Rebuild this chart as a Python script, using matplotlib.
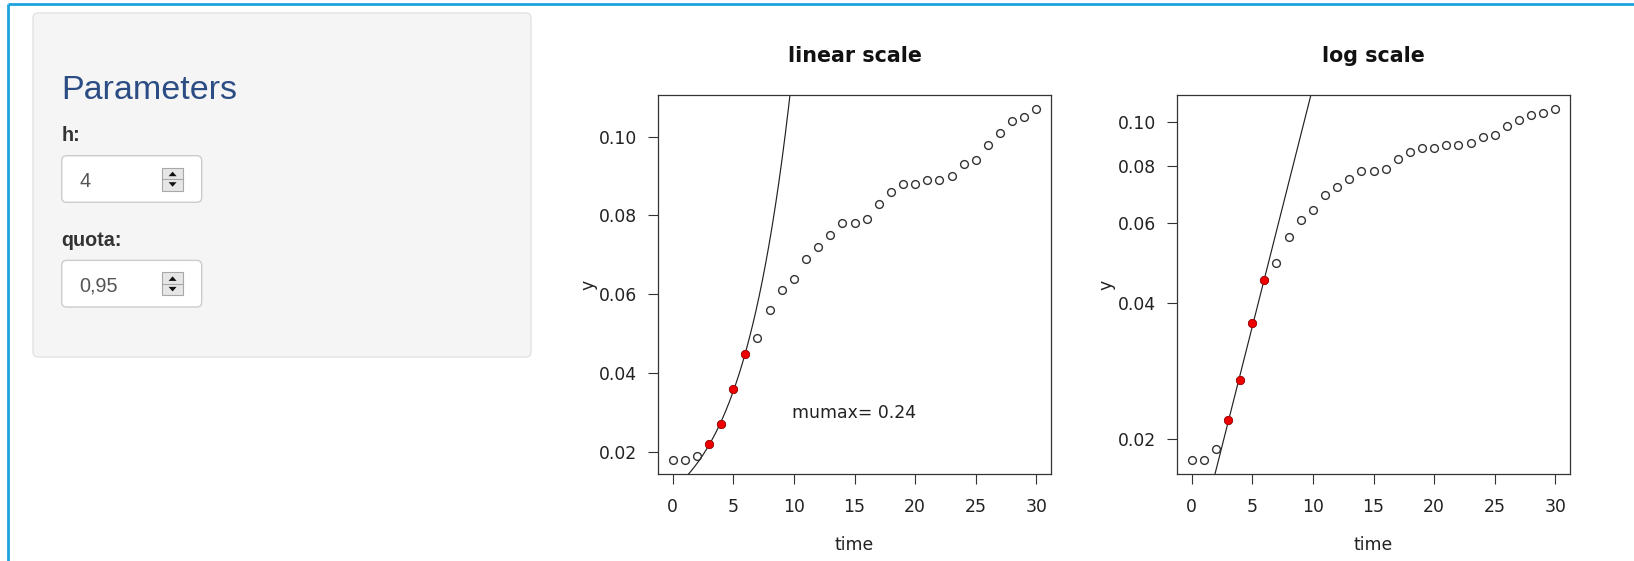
import numpy as np
import matplotlib
matplotlib.use("Agg")
import matplotlib.pyplot as plt
from matplotlib.patches import FancyBboxPatch, Rectangle, Polygon
from matplotlib.lines import Line2D

# ---------------- data ----------------
time = list(range(0, 31))
y = [0.018, 0.018, 0.019, 0.022, 0.027, 0.036, 0.045, 0.049, 0.056, 0.061,
     0.064, 0.069, 0.072, 0.075, 0.078, 0.078, 0.079, 0.083, 0.086, 0.088,
     0.088, 0.089, 0.089, 0.090, 0.093, 0.094, 0.098, 0.101, 0.104, 0.105,
     0.107]
fit_index = [3, 4, 5, 6]          # h = 4 points used for the fit
h_value = "4"
quota_value = "0,95"
x_ticks = [0, 5, 10, 15, 20, 25, 30]
lin_yticks = [0.02, 0.04, 0.06, 0.08, 0.10]
log_yticks = [0.02, 0.04, 0.06, 0.08, 0.10]

time_a = np.array(time, dtype=float)
y_a = np.array(y)
t_fit = time_a[fit_index]
y_fit = y_a[fit_index]
mumax, lny0 = np.polyfit(t_fit, np.log(y_fit), 1)
y0 = np.exp(lny0)

W, H = 1634, 561
fig = plt.figure(figsize=(W / 100, H / 100), dpi=100)
fig.patch.set_facecolor("white")

# ---------------- background (pixel coordinates) ----------------
bg = fig.add_axes([0, 0, 1, 1], zorder=-5)
bg.set_xlim(0, W)
bg.set_ylim(H, 0)
bg.axis("off")

blue = "#1ea3dd"
bg.add_line(Line2D([8, W], [4, 4], color=blue, lw=2.0, solid_capstyle="butt"))
bg.add_line(Line2D([8.5, 8.5], [4, H], color=blue, lw=2.0, solid_capstyle="butt"))

panel = FancyBboxPatch((33, 13), 498, 344, boxstyle="round,pad=0,rounding_size=5",
                       facecolor="#f5f5f5", edgecolor="#e3e3e3", lw=1.0)
bg.add_patch(panel)

sans = ["Liberation Sans", "DejaVu Sans"]
bg.text(61.5, 99, "Parameters", fontsize=24.5, color="#2c4c84", family=sans,
        va="baseline", ha="left")


def numeric_input(top, label, value):
    bg.text(61.5, top - 14.5, label, fontsize=14.2, fontweight="bold", color="#333333",
            family=sans, va="baseline", ha="left")
    box = FancyBboxPatch((61.7, top), 140, 46.6, boxstyle="round,pad=0,rounding_size=5",
                         facecolor="white", edgecolor="#cccccc", lw=1.0)
    bg.add_patch(box)
    bg.text(79.3, top + 31, value, fontsize=14.3, color="#555555", family=sans,
            va="baseline", ha="left")
    sx, sy, sw, sh = 162.5, top + 12, 20.2, 23
    bg.add_patch(Rectangle((sx, sy), sw, sh, facecolor="#e6e6e6", edgecolor="#a8a8a8", lw=0.8))
    bg.add_line(Line2D([sx, sx + sw], [sy + sh / 2, sy + sh / 2], color="#a8a8a8", lw=0.8))
    cx = sx + sw / 2
    bg.add_patch(Polygon([[cx - 4, sy + 8.5], [cx + 4, sy + 8.5], [cx, sy + 4]],
                         closed=True, facecolor="#111111", edgecolor="none"))
    bg.add_patch(Polygon([[cx - 4, sy + sh - 8.5], [cx + 4, sy + sh - 8.5], [cx, sy + sh - 4]],
                         closed=True, facecolor="#111111", edgecolor="none"))


numeric_input(155.7, "h:", h_value)
numeric_input(260.4, "quota:", quota_value)

# ---------------- plots ----------------
plt.rcParams["font.family"] = ["DejaVu Sans"]
fs = 12.4
dark = "#333333"


def make_axes(left_px):
    ax = fig.add_axes([left_px / W, 1 - 474 / H, 393 / W, 379 / H])
    for s in ax.spines.values():
        s.set_color(dark)
        s.set_linewidth(0.9)
    ax.tick_params(axis="both", which="major", length=7.2, width=0.8, color=dark,
                   labelsize=fs, labelcolor="#222222", direction="out")
    ax.tick_params(axis="y", pad=7.6)
    ax.tick_params(axis="x", pad=10)
    ax.tick_params(which="minor", left=False, bottom=False)
    ax.set_xlim(-1.2, 31.2)
    ax.set_xticks(x_ticks)
    ax.set_xticklabels([str(v) for v in x_ticks])
    return ax


tt = np.linspace(-1.2, 31.2, 600)
curve = y0 * np.exp(mumax * tt)


def draw_points(ax):
    ax.plot(tt, curve, color="#222222", lw=0.85, zorder=2)
    ax.plot(time_a, y_a, linestyle="none", marker="o", ms=5.6, mfc="none", mec=dark,
            mew=1.0, zorder=3)
    ax.plot(t_fit, y_fit, linestyle="none", marker="o", ms=5.8, mfc="#ee0000",
            mec="#c00000", mew=0.5, zorder=4)


# linear scale
ax1 = make_axes(658)
draw_points(ax1)
rng = y_a.max() - y_a.min()
ax1.set_ylim(y_a.min() - 0.04 * rng, y_a.max() + 0.04 * rng)
ax1.set_yticks(lin_yticks)
ax1.set_yticklabels(["%.2f" % v for v in lin_yticks])
ax1.text(15, 0.03, "mumax= %.2f" % mumax, fontsize=fs, color="#222222",
         ha="center", va="center")
ax1.text(0.5, 1.0863, "linear scale", transform=ax1.transAxes, ha="center",
         va="baseline", fontsize=14.9, fontweight="bold", color="#111111")
ax1.text(-0.178, 0.5, "y", transform=ax1.transAxes, rotation=90, ha="center",
         va="center", fontsize=fs, color="#222222")
ax1.text(0.5, -0.187, "time", transform=ax1.transAxes, ha="center", va="center",
         fontsize=fs, color="#222222")

# log scale
ax2 = make_axes(1177)
ax2.set_yscale("log")
draw_points(ax2)
lmin, lmax = np.log10(y_a.min()), np.log10(y_a.max())
lr = lmax - lmin
ax2.set_ylim(10 ** (lmin - 0.04 * lr), 10 ** (lmax + 0.04 * lr))
ax2.yaxis.set_minor_locator(matplotlib.ticker.NullLocator())
ax2.set_yticks(log_yticks)
ax2.set_yticklabels(["%.2f" % v for v in log_yticks])
ax2.set_xlim(-1.2, 31.2)
ax2.text(0.5, 1.0863, "log scale", transform=ax2.transAxes, ha="center",
         va="baseline", fontsize=14.9, fontweight="bold", color="#111111")
ax2.text(-0.179, 0.5, "y", transform=ax2.transAxes, rotation=90, ha="center",
         va="center", fontsize=fs, color="#222222")
ax2.text(0.5, -0.187, "time", transform=ax2.transAxes, ha="center", va="center",
         fontsize=fs, color="#222222")

fig.savefig("out.png", dpi=100)
